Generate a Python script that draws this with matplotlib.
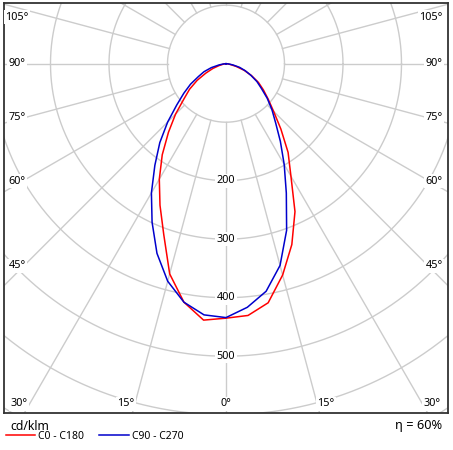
import numpy as np
import matplotlib
matplotlib.use("Agg")
import matplotlib.pyplot as plt

plt.rcParams['font.family'] = ['Noto Sans', 'DejaVu Sans']

# ---- data (cd/klm) ----
gamma = [0, 5, 10, 15, 20, 25, 30, 35, 40, 45, 50, 55, 60, 65, 70, 75, 80, 85, 90]
c0   = [435, 432, 415, 374, 329, 279, 222, 185, 146, 115, 94, 78, 64, 48, 33, 18, 7, 2, 0]
c180 = [435, 440, 414, 372, 311, 267, 228, 190, 153, 122, 94, 76, 57, 38, 24, 12, 5, 1, 0]
c90  = [434, 418, 395, 357, 303, 244, 199, 162, 132, 111, 92, 74, 61, 47, 35, 24, 12, 4, 0]
c270 = [434, 431, 414, 385, 345, 299, 255, 212, 176, 141, 110, 88, 70, 52, 40, 26, 12, 4, 0]
series_labels = ["C0 - C180", "C90 - C270"]
circle_values = [100, 200, 300, 400, 500, 600, 700]
circle_labels = [200, 300, 400, 500]
angle_step = 15
efficiency = "η = 60%"
unit = "cd/klm"

W, H = 453, 450
fig = plt.figure(figsize=(W / 100, H / 100), dpi=100)

# frame in pixels
fx0, fx1, fy0, fy1 = 4, 448, 3, 413
cx, cy = 226, 63.7
scale = 0.585  # px per cd/klm

ax = fig.add_axes([fx0 / W, 1 - fy1 / H, (fx1 - fx0) / W, (fy1 - fy0) / H])
ax.set_xlim((fx0 - cx) / scale, (fx1 - cx) / scale)
ax.set_ylim(-(fy1 - cy) / scale, (cy - fy0) / scale)
ax.set_aspect('equal', adjustable='box')
ax.set_xticks([])
ax.set_yticks([])
for s in ax.spines.values():
    s.set_color('#333333')
    s.set_linewidth(1.3)
    s.set_zorder(10)

grid_col = '#cccccc'
t = np.linspace(0, 2 * np.pi, 721)
for rv in circle_values:
    ax.plot(rv * np.cos(t), rv * np.sin(t), color=grid_col, lw=1.0, zorder=1)
for a in range(0, 360, angle_step):
    ar = np.deg2rad(a)
    ax.plot([100 * np.sin(ar), 1200 * np.sin(ar)],
            [-100 * np.cos(ar), -1200 * np.cos(ar)],
            color=grid_col, lw=1.0, zorder=1)


def curve(right, left):
    g = np.deg2rad(np.array(gamma, dtype=float))
    r_r = np.array(right, dtype=float)
    r_l = np.array(left, dtype=float)
    xl = -r_l[::-1] * np.sin(g[::-1])
    yl = -r_l[::-1] * np.cos(g[::-1])
    xr = r_r * np.sin(g)
    yr = -r_r * np.cos(g)
    return np.concatenate([xl, xr[1:]]), np.concatenate([yl, yr[1:]])


x1, y1 = curve(c0, c180)
x2, y2 = curve(c90, c270)
l1, = ax.plot(x1, y1, color='#ff0000', lw=1.1, zorder=5, label=series_labels[0])
l2, = ax.plot(x2, y2, color='#0000cc', lw=1.1, zorder=6, label=series_labels[1])

txt_col = '#000000'
bb = dict(facecolor='white', edgecolor='none', pad=1.0)
for rv in circle_labels:
    ax.text(0, -rv, str(rv), ha='center', va='center', fontsize=7.8,
            color=txt_col, bbox=bb, zorder=7)

angle_labels = [("105°", 17, 17), ("90°", 17, 63), ("75°", 17, 118), ("60°", 17, 181),
                ("45°", 17, 266), ("30°", 19, 404), ("15°", 126, 404), ("0°", 226, 404),
                ("15°", 326, 404), ("30°", 432, 404), ("45°", 434, 266), ("60°", 434, 181),
                ("75°", 434, 118), ("90°", 434, 63), ("105°", 431, 17)]
for s, px, py in angle_labels:
    fig.text(px / W, 1 - py / H, s, ha='center', va='center', fontsize=7.8,
             color=txt_col, bbox=bb, zorder=8)

fig.text(10 / W, 1 - 427 / H, unit, ha='left', va='center', fontsize=8.8, color=txt_col)
fig.text(442 / W, 1 - 425 / H, efficiency, ha='right', va='center', fontsize=9.2, color=txt_col)

fig.legend(handles=[l1, l2], labels=series_labels, loc='upper left',
           bbox_to_anchor=(6 / W, 1 - 431 / H), bbox_transform=fig.transFigure,
           ncol=2, frameon=False, borderpad=0, borderaxespad=0,
           handlelength=2.8, handletextpad=0.3, columnspacing=1.45,
           fontsize=7.5)

fig.savefig("out.png", dpi=100)
